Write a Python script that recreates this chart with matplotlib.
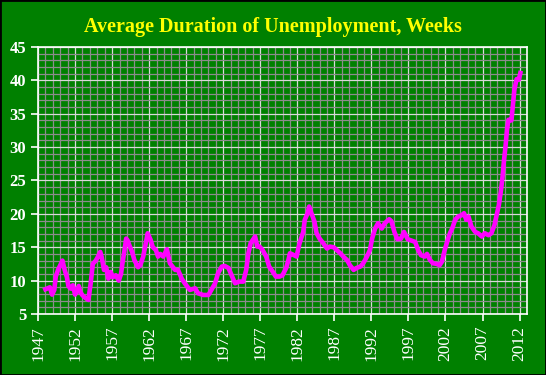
import numpy as np
import matplotlib
matplotlib.use('Agg')
import matplotlib.pyplot as plt
from matplotlib.patches import Rectangle
from matplotlib.ticker import MultipleLocator

# decimal year, average weeks unemployed
years = [1948.0, 1948.6, 1948.9, 1949.2, 1949.4, 1949.7, 1950.0, 1950.3, 1950.6, 1950.9,
         1951.1, 1951.4, 1951.7, 1952.0, 1952.3, 1952.5, 1952.7, 1953.0, 1953.4, 1953.8,
         1954.1, 1954.2, 1954.4, 1954.8, 1955.1, 1955.4, 1955.6, 1955.9, 1956.2, 1956.5,
         1956.8, 1957.1, 1957.5, 1957.9, 1958.2, 1958.4, 1958.6, 1958.9, 1959.1, 1959.4,
         1959.7, 1960.0, 1960.5, 1960.8, 1961.2, 1961.5, 1961.8, 1962.2, 1962.5, 1962.9,
         1963.2, 1963.5, 1963.9, 1964.4, 1964.8, 1965.5, 1965.9, 1966.4, 1966.8, 1967.5,
         1968.2, 1968.6, 1969.3, 1970.0, 1970.4, 1970.9, 1971.3, 1971.8, 1972.2, 1972.7,
         1973.2, 1973.6, 1974.1, 1974.7, 1975.1, 1975.4, 1975.7, 1976.0, 1976.3, 1976.6,
         1976.9, 1977.3, 1977.8, 1978.2, 1978.7, 1979.1, 1979.6, 1980.0, 1980.5, 1980.8,
         1981.0, 1981.4, 1981.9, 1982.3, 1982.8, 1983.0, 1983.4, 1983.6, 1983.9, 1984.3,
         1984.6, 1985.0, 1985.5, 1986.0, 1986.4, 1986.9, 1987.3, 1987.8, 1988.2, 1988.7,
         1989.1, 1989.6, 1990.0, 1990.5, 1990.9, 1991.4, 1991.8, 1992.1, 1992.5, 1992.9,
         1993.4, 1993.8, 1994.4, 1994.7, 1995.1, 1995.5, 1996.0, 1996.4, 1996.9, 1997.4,
         1997.9, 1998.3, 1998.7, 1999.2, 1999.5, 1999.9, 2000.3, 2000.8, 2001.2, 2001.5,
         2001.9, 2002.3, 2002.6, 2002.9, 2003.3, 2003.7, 2004.2, 2004.5, 2004.8, 2005.1,
         2005.5, 2006.0, 2006.4, 2006.9, 2007.3, 2007.8, 2008.2, 2008.6, 2008.9, 2009.2,
         2009.5, 2009.7, 2009.9, 2010.1, 2010.3, 2010.5, 2010.9, 2011.1, 2011.3, 2011.6,
         2011.9, 2012.1]
weeks = [8.7, 9.0, 7.9, 8.6, 10.6, 11.6, 12.3, 13.0, 11.6, 10.5,
         9.2, 8.8, 9.3, 7.9, 8.5, 9.2, 8.3, 7.8, 7.4, 7.1,
         9.5, 10.5, 12.5, 13.0, 13.6, 14.3, 13.5, 11.6, 12.0, 10.3,
         11.3, 10.5, 10.8, 10.0, 11.0, 12.6, 14.0, 16.3, 16.0, 15.1,
         14.3, 13.1, 12.0, 12.3, 13.6, 15.3, 17.1, 16.1, 15.0, 14.6,
         13.6, 14.0, 13.6, 14.7, 12.6, 11.6, 11.6, 10.3, 9.6, 8.6,
         8.85, 8.1, 7.85, 7.85, 8.6, 9.6, 11.1, 12.1, 12.2, 11.9,
         10.6, 9.6, 9.85, 9.85, 11.6, 14.1, 15.6, 16.1, 16.6, 15.1,
         15.1, 14.6, 13.6, 12.1, 11.3, 10.6, 10.6, 10.8, 11.9, 13.1,
         14.1, 13.9, 13.6, 15.6, 17.3, 19.1, 20.1, 21.1, 20.1, 18.9,
         17.1, 16.3, 15.6, 14.8, 15.1, 15.0, 14.6, 14.1, 13.6, 13.1,
         12.3, 11.6, 11.9, 12.1, 12.6, 13.6, 14.6, 16.3, 17.8, 18.6,
         17.8, 18.6, 19.2, 18.9, 17.3, 16.2, 16.3, 17.3, 16.2, 16.0,
         15.8, 14.6, 13.8, 13.6, 14.0, 13.1, 12.6, 12.5, 12.3, 12.8,
         14.6, 16.1, 17.1, 17.8, 19.1, 19.6, 19.8, 20.1, 19.1, 19.6,
         18.1, 17.3, 17.1, 16.6, 17.1, 16.8, 17.1, 18.3, 19.8, 21.3,
         23.6, 25.6, 28.1, 30.1, 32.6, 34.1, 34.0, 36.3, 38.6, 40.2,
         40.1, 41.1]
xticks = list(range(1947, 2013, 5))
title = 'Average Duration of Unemployment, Weeks'

green = '#008000'
fig = plt.figure(figsize=(5.46, 3.75), dpi=100, facecolor=green)
ax = fig.add_axes([0.0696, 0.1627, 0.8956, 0.712])
ax.set_facecolor(green)

ax.plot(years, weeks, color='#ff00ff', lw=3.3, zorder=3)

ax.set_xlim(1947, 2013)
ax.set_ylim(5, 45)
ax.set_xticks(xticks)
ax.set_xticklabels([str(y) for y in xticks], rotation=90)
ax.yaxis.set_major_locator(MultipleLocator(5))
ax.xaxis.set_minor_locator(MultipleLocator(1))
ax.yaxis.set_minor_locator(MultipleLocator(1))

ax.grid(which='minor', color='#8c8c8c', lw=0.9, zorder=1)
ax.grid(which='major', color='#d8d8d8', lw=0.9, zorder=2)
ax.set_axisbelow(True)

for s in ax.spines.values():
    s.set_color('white')
    s.set_linewidth(1.2)

ax.tick_params(which='minor', length=0)
ax.tick_params(which='major', colors='white', length=5, width=1.2)
for lab in ax.get_xticklabels():
    lab.set_fontfamily('Liberation Serif')
    lab.set_fontsize(12.5)
for lab in ax.get_yticklabels():
    lab.set_fontfamily('Liberation Serif')
    lab.set_fontsize(12)
    lab.set_fontweight('bold')

fig.text(0.5, 0.927, title, ha='center', va='center', color='#ffff00',
         fontsize=14.5, fontweight='bold', family='Liberation Serif')

fig.patches.append(Rectangle((0, 0), 1, 1, transform=fig.transFigure,
                             fill=False, edgecolor='black', lw=2))

fig.savefig('out.png', dpi=100, facecolor=green)
